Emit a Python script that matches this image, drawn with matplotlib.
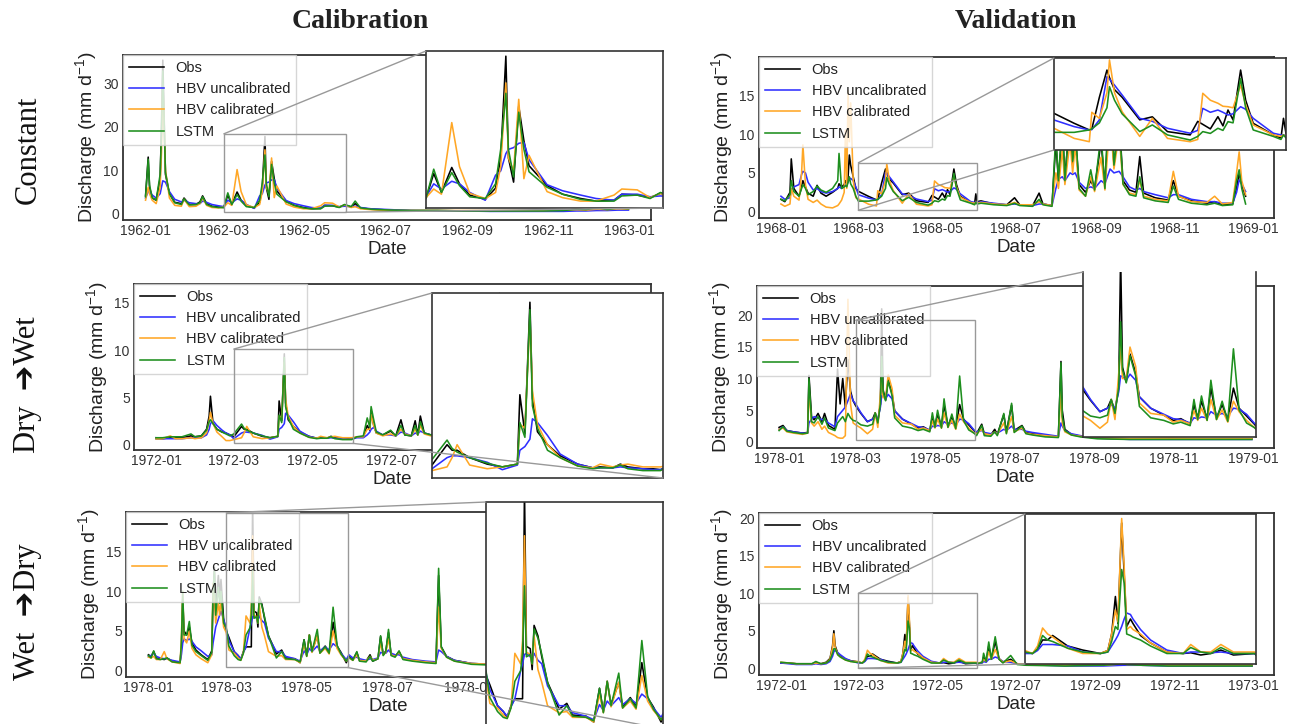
import numpy as np
import pandas as pd
import matplotlib
matplotlib.use("Agg")
import matplotlib.pyplot as plt
import matplotlib.dates as mdates
from matplotlib.patches import Rectangle, ConnectionPatch

plt.rcParams['font.family'] = ['Liberation Sans', 'DejaVu Sans']
plt.rcParams['mathtext.fontset'] = 'custom'
plt.rcParams['mathtext.rm'] = 'Liberation Sans'
plt.rcParams['mathtext.it'] = 'Liberation Sans:italic'

# ---- data: day offsets from Jan 1 and discharge (mm/d) per series ----
# Constant / calibration (1962)
a_day = [0, 2, 3, 5, 8, 11, 12, 13, 15, 18, 22, 27, 29, 33, 38, 41, 43, 46, 50, 55,
         59, 62, 65, 69, 72, 76, 82, 86, 88, 90, 91, 93, 95, 97, 99, 106, 112, 119, 125, 132, 135, 141, 146, 150,
         155, 158, 162, 170, 185, 200, 220, 240, 260, 280, 300, 315, 325, 332, 340, 348, 356, 364]
a_obs = [4.0, 13.0, 6.0, 3.5, 3.0, 8.0, 20.0, 35.5, 9.0, 4.5, 2.5, 2.2, 3.5, 2.0, 2.0, 2.6, 4.0, 2.2, 1.6, 1.4,
         1.3, 4.2, 2.0, 4.9, 3.0, 1.7, 1.2, 2.5, 6.0, 17.8, 6.0, 3.2, 12.0, 8.0, 5.1, 2.8, 1.8, 1.3, 1.0, 1.1, 1.8, 1.7, 1.4, 1.9,
         1.4, 2.2, 1.2, 0.9, 0.7, 0.6, 0.6, 0.5, 0.5, 0.5, 0.6, 0.6, 1.0, 0.8, 1.2, 0.9, 1.3, 1.0]
a_hbvu = [3.5, 5.0, 5.2, 4.2, 3.5, 4.5, 6.0, 7.5, 7.2, 5.0, 3.2, 2.6, 3.0, 2.4, 2.2, 2.2, 2.8, 2.5, 2.0, 1.7,
          1.5, 3.0, 2.4, 3.3, 3.0, 2.0, 1.1, 4.0, 4.5, 6.5, 7.0, 7.2, 7.7, 7.8, 5.8, 2.9, 2.2, 1.7, 1.3, 1.1, 1.8, 1.8, 1.5, 1.6,
          1.5, 1.6, 1.3, 1.0, 0.8, 0.6, 0.5, 0.5, 0.4, 0.4, 0.4, 0.4, 0.5, 0.5, 0.6, 0.6, 0.7, 0.7]
a_hbvc = [3.0, 6.0, 4.5, 3.0, 2.2, 6.0, 14.0, 30.0, 10.0, 3.5, 1.8, 1.6, 3.2, 1.5, 1.6, 2.2, 3.5, 1.8, 1.3, 1.2,
          1.4, 2.4, 1.8, 10.1, 5.0, 1.9, 1.3, 2.0, 5.0, 14.7, 6.0, 4.5, 12.8, 3.6, 6.3, 2.1, 1.4, 1.0, 1.0, 1.7, 2.4, 2.3, 1.4, 1.9,
          1.3, 1.5, 1.0, 0.8, 0.6, 0.6, 0.6, 0.6, 0.6, 0.6, 0.6, 0.7, 0.8, 0.7, 0.9, 0.8, 1.0, 0.9]
a_lstm = [3.8, 12.5, 6.5, 3.6, 3.0, 9.0, 18.0, 33.0, 9.5, 4.5, 2.4, 2.0, 3.3, 1.9, 2.0, 2.4, 3.8, 2.0, 1.5, 1.3,
          1.3, 4.7, 2.0, 4.3, 2.8, 1.5, 1.3, 3.0, 7.0, 13.5, 7.0, 3.8, 11.3, 7.0, 4.4, 2.6, 1.8, 1.2, 1.0, 1.0, 1.6, 1.7, 1.3, 2.0,
          1.5, 2.8, 1.2, 0.9, 0.7, 0.6, 0.6, 0.5, 0.5, 0.5, 0.5, 0.6, 0.9, 0.8, 1.3, 0.8, 1.2, 1.0]

# Constant / validation (1968)
b_day = [0, 3, 7, 8, 10, 14, 16, 17, 19, 21, 25, 28, 31, 35, 40, 44, 45, 47, 49, 50, 51, 52, 53, 54, 56, 58,
         60, 68, 74, 75, 78, 81, 82, 84, 87, 94, 99, 105, 114, 117, 119, 122, 125, 127, 129, 131, 134, 136, 139, 147, 150, 151, 152,
         155, 165, 175, 181, 185, 195, 200, 203, 210, 213, 215, 218, 220, 224, 226, 228, 231, 236, 240, 243,
         248, 251, 255, 258, 262, 265, 270, 275, 278, 281, 290, 300, 304, 308, 318, 330, 336, 342, 350, 353, 355, 357, 360]
b_obs = [1.6, 1.3, 2.5, 6.8, 3.0, 2.0, 3.2, 4.0, 3.2, 2.4, 2.0, 3.4, 2.4, 2.0, 2.5, 3.0, 3.6, 3.2, 3.5, 4.0, 3.6, 4.5, 7.3, 6.0, 4.5, 3.0,
         2.63, 1.97, 1.53, 1.6, 3.7, 5.5, 5.0, 4.2, 3.7, 2.2, 2.4, 1.42, 1.2, 2.1, 1.9, 1.6, 2.41, 1.8, 2.85, 2.2, 5.5, 3.5, 1.97, 1.2, 1.0, 2.3, 1.3,
         1.4, 1.0, 0.9, 1.8, 0.9, 0.8, 2.4, 1.0, 0.8, 9.0, 4.0, 11.0, 4.5, 12.0, 6.0, 10.0, 3.5, 2.5, 4.0, 3.0,
         9.0, 3.5, 15.0, 6.0, 12.0, 4.0, 2.8, 2.5, 7.1, 2.4, 1.8, 1.5, 4.0, 2.0, 1.4, 1.1, 1.3, 0.9, 1.0, 3.0, 5.0, 3.5, 2.0]
b_hbvu = [2.0, 1.6, 1.8, 2.8, 3.2, 3.5, 4.8, 5.2, 5.0, 3.8, 2.8, 3.0, 2.6, 2.4, 2.6, 3.0, 3.2, 3.0, 3.2, 3.4, 3.5, 3.8, 4.2, 4.3, 4.0, 3.2,
          2.19, 1.75, 1.53, 1.55, 2.2, 5.06, 4.9, 4.5, 3.85, 2.3, 2.1, 1.64, 1.31, 1.5, 2.96, 2.7, 2.85, 2.7, 2.52, 2.6, 3.07, 2.9, 2.3, 1.31, 1.2, 1.2, 1.15,
          1.3, 1.1, 0.9, 1.0, 0.9, 0.8, 1.0, 1.0, 0.8, 3.0, 4.2, 4.5, 4.0, 5.0, 4.8, 5.0, 3.8, 3.0, 3.2, 3.0,
          4.0, 3.6, 5.5, 5.0, 5.2, 4.5, 3.2, 2.8, 3.0, 2.6, 2.2, 1.8, 2.2, 2.2, 1.6, 1.3, 1.3, 1.1, 1.1, 2.5, 4.1, 3.6, 2.6]
b_hbvc = [1.0, 0.7, 1.0, 3.0, 2.0, 1.5, 5.0, 8.6, 3.5, 1.6, 1.2, 1.5, 1.0, 0.6, 0.5, 0.8, 1.0, 1.5, 2.5, 10.5, 3.0, 15.6, 9.0, 14.0, 4.0, 1.8,
          1.64, 0.97, 0.75, 2.7, 2.3, 4.0, 6.17, 4.0, 2.74, 1.1, 2.3, 0.97, 0.75, 0.9, 3.96, 3.5, 3.3, 3.1, 3.07, 3.0, 4.5, 3.2, 1.86, 1.2, 1.1, 1.2, 1.1,
          1.2, 1.0, 0.9, 1.2, 0.9, 0.9, 1.3, 1.0, 0.8, 5.0, 3.0, 8.0, 3.5, 9.0, 5.0, 8.5, 2.8, 2.0, 4.5, 2.6,
          7.0, 2.8, 12.0, 5.5, 10.0, 3.5, 2.4, 2.2, 4.0, 2.0, 1.6, 1.4, 5.2, 2.0, 1.3, 1.2, 2.0, 1.0, 1.2, 5.0, 7.7, 4.0, 2.2]
b_lstm = [1.6, 1.4, 2.2, 4.0, 2.6, 2.0, 3.0, 3.5, 3.0, 2.2, 2.6, 3.3, 2.8, 2.5, 3.0, 4.0, 7.5, 3.0, 3.2, 3.4, 3.2, 3.8, 4.5, 3.6, 3.0, 2.0,
          1.37, 1.37, 1.53, 1.6, 2.0, 3.0, 4.4, 3.5, 2.6, 1.42, 1.86, 1.2, 0.86, 1.1, 1.42, 1.3, 1.64, 1.5, 2.08, 2.0, 4.94, 3.0, 1.53, 1.1, 0.9, 1.2, 1.0,
          1.1, 0.9, 0.8, 1.1, 0.8, 0.7, 1.6, 0.9, 0.7, 10.0, 4.0, 12.0, 4.0, 13.0, 6.5, 11.0, 3.0, 2.0, 5.4, 2.8,
          10.0, 3.0, 18.8, 6.0, 11.5, 3.6, 2.2, 2.0, 4.5, 1.8, 1.4, 1.2, 3.3, 1.6, 1.1, 0.9, 1.1, 0.8, 0.9, 4.0, 5.4, 3.0, 1.0]

# Dry -> Wet / calibration (1972)
c_day = [0, 5, 11, 15, 20, 27, 30, 35, 39, 41, 42, 44, 47, 51, 54, 57,
         60, 66, 68, 70, 75, 82, 88, 94, 95, 97, 99, 100, 102, 106, 111, 118, 124, 127, 132, 135, 138, 144, 148, 151,
         155, 160, 163, 165, 166, 168, 170, 175, 181, 185, 189, 192, 197, 200, 202, 204, 207, 212, 230, 250, 262, 265, 268, 280, 300, 330, 365]
c_obs = [0.6, 0.6, 0.7, 0.7, 0.7, 0.9, 0.8, 0.9, 1.6, 3.0, 5.1, 2.2, 1.6, 1.3, 1.2, 1.0,
         0.8, 1.9, 1.6, 1.6, 1.2, 0.85, 0.7, 0.85, 4.6, 2.5, 9.6, 4.4, 2.6, 1.9, 1.3, 0.85, 0.65, 0.7, 0.65, 0.85, 0.7, 0.6, 0.6, 0.55,
         0.8, 0.8, 2.0, 1.5, 3.6, 2.0, 1.2, 1.0, 1.4, 0.9, 2.6, 1.0, 0.9, 2.5, 1.0, 3.0, 1.2, 1.0, 1.5, 2.0, 6.0, 16.0, 5.0, 2.5, 1.5, 1.2, 1.0]
c_hbvu = [0.7, 0.6, 0.6, 0.6, 0.6, 0.7, 0.7, 0.7, 1.0, 1.6, 2.2, 2.5, 2.0, 1.5, 1.2, 1.0,
          0.6, 1.2, 1.3, 1.3, 1.2, 0.95, 0.55, 0.8, 1.6, 1.8, 2.2, 3.3, 3.1, 2.4, 1.4, 0.85, 0.65, 0.65, 0.65, 0.7, 0.65, 0.6, 0.55, 0.55,
          0.7, 0.7, 1.0, 1.3, 1.6, 1.8, 1.4, 1.0, 1.0, 0.9, 1.3, 1.2, 0.9, 1.2, 1.1, 1.4, 1.2, 1.0, 1.3, 1.6, 3.0, 6.0, 5.0, 2.8, 1.6, 1.2, 1.0]
c_hbvc = [0.6, 0.6, 0.9, 0.6, 0.6, 0.7, 0.6, 0.7, 1.2, 2.5, 3.4, 2.2, 1.3, 0.8, 0.4, 0.4,
          0.5, 0.7, 1.2, 1.9, 0.8, 0.6, 0.7, 0.85, 3.0, 2.8, 8.7, 4.8, 3.0, 1.9, 1.2, 0.75, 0.65, 0.85, 0.7, 0.8, 0.85, 0.7, 0.7, 0.7,
          0.8, 0.8, 1.6, 1.6, 3.2, 2.0, 1.2, 0.9, 1.1, 0.9, 1.6, 1.1, 0.9, 1.6, 1.0, 2.0, 1.1, 0.9, 1.4, 1.8, 5.0, 14.0, 5.0, 2.2, 1.4, 1.1, 0.9]
c_lstm = [0.7, 0.7, 0.8, 0.8, 0.8, 1.1, 0.8, 0.9, 1.5, 2.4, 2.6, 2.2, 1.6, 1.3, 1.1, 0.9,
          1.1, 2.15, 1.7, 1.5, 1.2, 0.9, 0.7, 0.85, 3.1, 2.3, 9.2, 4.0, 2.8, 1.6, 1.2, 0.75, 0.6, 0.65, 0.65, 0.8, 0.6, 0.5, 0.5, 0.5,
          0.8, 0.9, 2.8, 1.8, 4.0, 2.6, 1.3, 1.0, 1.5, 0.9, 2.0, 1.0, 0.9, 2.0, 1.0, 2.4, 1.2, 1.0, 1.5, 1.9, 5.5, 13.0, 5.0, 2.3, 1.5, 1.2, 1.0]

# Dry -> Wet / validation (1978)
d_day = [0, 3, 6, 11, 18, 22, 23, 25, 27, 30, 33, 35, 38, 43, 45, 47, 49, 51, 53, 55, 57,
         59, 63, 68, 72, 74, 76, 78, 79, 80, 82, 84, 87, 89, 95, 102, 107, 111, 116, 118, 120, 122, 125, 127, 130, 133, 136, 139, 142, 146, 150,
         152, 156, 158, 163, 166, 168, 173, 175, 179, 181, 187, 190, 195, 205, 215, 217, 218, 220, 225, 232, 245, 270, 300, 330, 364]
d_obs = [2.3, 2.6, 1.8, 1.6, 1.4, 1.5, 10.5, 4.0, 3.5, 4.5, 3.2, 4.5, 2.6, 2.0, 11.5, 6.0, 10.0, 5.5, 13.0, 8.0, 6.5,
         5.7, 4.5, 3.2, 3.6, 4.6, 3.2, 6.0, 21.0, 8.3, 6.6, 9.8, 7.6, 4.9, 3.6, 2.8, 2.2, 2.4, 1.8, 4.0, 2.5, 4.4, 2.4, 5.9, 2.5, 4.0, 2.3, 5.9, 3.6, 2.7, 1.8,
         1.3, 2.8, 1.3, 1.1, 2.0, 1.2, 4.3, 1.6, 5.8, 1.8, 2.6, 1.5, 1.3, 1.0, 0.8, 12.7, 5.0, 2.0, 1.2, 0.9, 0.6, 0.5, 0.5, 0.5, 0.5]
d_hbvu = [2.0, 2.4, 1.8, 1.6, 1.4, 1.4, 3.0, 3.6, 4.0, 3.8, 3.5, 3.6, 3.0, 2.4, 4.0, 4.5, 5.0, 5.5, 6.5, 7.6, 6.5,
          6.0, 4.6, 3.2, 3.6, 4.0, 3.6, 5.5, 7.3, 7.2, 6.8, 7.5, 6.8, 4.9, 3.6, 2.9, 2.4, 2.3, 1.9, 2.5, 2.4, 2.6, 2.5, 3.2, 2.8, 3.0, 2.7, 3.6, 3.5, 2.9, 1.9,
          1.6, 1.8, 1.5, 1.3, 1.5, 1.4, 2.0, 1.8, 2.5, 2.0, 2.0, 1.7, 1.5, 1.2, 0.9, 3.0, 2.5, 1.8, 1.3, 1.0, 0.6, 0.4, 0.4, 0.4, 0.4]
d_hbvc = [2.0, 2.2, 1.6, 1.4, 1.2, 1.4, 8.2, 3.0, 2.5, 3.2, 2.0, 2.5, 1.5, 1.0, 0.7, 0.6, 0.6, 1.0, 22.5, 6.0, 3.0,
          2.7, 2.2, 1.3, 2.0, 4.6, 2.3, 7.6, 10.7, 7.0, 7.0, 10.6, 8.4, 4.2, 3.0, 2.8, 2.0, 2.2, 1.8, 3.3, 2.2, 3.6, 2.2, 4.6, 2.3, 3.4, 2.0, 4.4, 3.2, 2.2, 1.4,
          1.3, 2.0, 1.3, 1.1, 1.6, 1.2, 3.0, 1.4, 4.0, 1.6, 2.2, 1.4, 1.2, 1.0, 0.8, 8.0, 3.0, 1.6, 1.1, 0.9, 0.6, 0.5, 0.6, 0.5, 0.5]
d_lstm = [1.8, 2.4, 1.7, 1.5, 1.3, 1.4, 10.0, 3.2, 3.0, 4.0, 2.8, 3.8, 2.2, 1.8, 3.0, 3.5, 4.0, 3.2, 4.5, 3.8, 3.4,
          3.3, 2.7, 2.5, 2.8, 4.6, 3.0, 6.0, 13.5, 8.0, 6.5, 9.6, 7.3, 3.8, 2.5, 2.2, 1.8, 2.0, 1.6, 4.6, 2.3, 5.0, 2.2, 6.8, 2.3, 4.4, 2.1, 10.4, 3.4, 1.9, 1.4,
          1.0, 2.6, 1.0, 0.9, 1.6, 1.0, 4.5, 1.3, 6.1, 1.5, 2.5, 1.3, 1.1, 0.8, 0.7, 12.5, 4.0, 1.8, 1.1, 0.8, 0.5, 0.4, 0.4, 0.4, 0.4]

# Wet -> Dry / calibration (1978)
e_day = [0, 2, 4, 6, 9, 12, 14, 18, 24, 25, 26, 27, 29, 31, 33, 36, 40, 45, 48, 49, 50, 51, 53, 54, 55, 57,
         59, 61, 65, 68, 70, 72, 74, 77, 78, 79, 80, 82, 83, 84, 86, 88, 91, 94, 97, 101, 104, 111, 115, 118,
         120, 122, 124, 128, 130, 134, 137, 140, 143, 146, 150,
         152, 155, 158, 160, 165, 168, 170, 174, 176, 178, 180, 182, 184, 187, 190, 193, 200, 210, 218, 220, 222, 226, 232, 245, 260, 300, 364]
e_obs = [2.0, 1.8, 2.4, 1.6, 1.5, 1.4, 1.6, 1.2, 1.0, 3.0, 9.0, 5.0, 4.5, 5.5, 3.5, 2.6, 2.0, 1.4, 2.5, 9.0, 13.0, 8.0, 12.0, 9.5, 11.5, 6.5,
         5.0, 4.2, 2.4, 1.9, 1.4, 2.4, 3.0, 3.0, 3.0, 21.0, 7.5, 7.3, 5.5, 9.3, 8.4, 6.6, 4.4, 3.3, 2.1, 2.6, 1.6, 1.5, 1.0, 3.9,
         1.9, 4.5, 2.5, 4.4, 2.3, 3.1, 2.3, 6.1, 3.1, 2.3, 1.0,
         1.8, 1.4, 2.3, 1.3, 1.2, 2.0, 1.2, 1.5, 4.3, 2.0, 2.5, 4.8, 2.0, 1.8, 2.4, 1.5, 1.3, 1.1, 1.0, 12.0, 3.0, 1.8, 1.3, 0.9, 0.8, 0.8, 0.8]
e_hbvu = [1.8, 1.9, 2.2, 1.8, 1.6, 1.5, 1.5, 1.3, 1.1, 2.0, 3.5, 4.0, 3.8, 4.0, 3.7, 3.0, 2.5, 1.8, 2.0, 3.5, 4.5, 5.5, 6.5, 7.0, 7.5, 6.5,
          5.2, 3.8, 2.4, 1.9, 1.5, 2.3, 3.0, 5.4, 6.0, 6.8, 6.9, 6.6, 6.4, 6.9, 6.3, 6.0, 4.1, 3.3, 2.4, 2.4, 1.8, 1.5, 1.2, 2.5,
          2.0, 2.8, 2.4, 3.1, 2.5, 3.0, 2.6, 3.4, 3.0, 2.2, 1.4,
          2.0, 1.6, 1.7, 1.5, 1.3, 1.5, 1.4, 1.6, 2.3, 2.2, 2.2, 2.6, 2.2, 2.0, 2.0, 1.7, 1.4, 1.2, 1.1, 2.6, 2.4, 1.8, 1.3, 0.9, 0.8, 0.8, 0.8]
e_hbvc = [1.7, 1.6, 1.8, 1.4, 1.4, 2.4, 1.5, 1.1, 0.9, 4.0, 10.0, 4.0, 3.5, 5.0, 2.8, 2.0, 1.5, 1.0, 2.0, 11.0, 9.0, 6.0, 8.5, 7.0, 9.0, 5.5,
          4.8, 2.6, 2.2, 1.6, 1.3, 2.3, 6.9, 6.0, 8.0, 17.0, 7.0, 6.8, 6.0, 8.4, 5.5, 4.4, 2.4, 2.1, 1.8, 1.9, 1.4, 1.4, 1.0, 3.4,
          1.8, 4.5, 2.3, 4.4, 2.2, 2.8, 2.1, 5.0, 2.8, 2.0, 1.2,
          1.6, 1.3, 2.0, 1.3, 1.2, 1.8, 1.3, 1.5, 3.5, 2.0, 2.3, 4.0, 2.0, 1.8, 2.3, 1.5, 1.3, 1.1, 1.0, 8.0, 2.8, 1.7, 1.2, 0.9, 0.8, 0.8, 0.8]
e_lstm = [1.9, 1.6, 2.5, 1.5, 1.4, 1.5, 1.6, 1.1, 1.0, 3.5, 10.0, 4.5, 4.5, 6.2, 3.2, 2.4, 1.9, 1.3, 2.3, 10.0, 12.5, 7.0, 10.5, 8.5, 10.0, 6.0,
          5.4, 3.1, 1.9, 1.4, 1.3, 2.2, 4.5, 5.4, 7.0, 12.7, 6.6, 6.8, 6.0, 9.0, 8.2, 6.8, 4.4, 3.0, 1.6, 2.4, 1.5, 1.4, 1.1, 3.9,
          1.8, 4.5, 2.4, 5.2, 2.2, 3.0, 2.2, 8.0, 3.2, 2.1, 1.2,
          1.7, 1.3, 2.4, 1.2, 1.1, 1.8, 1.2, 1.5, 4.4, 1.9, 2.4, 5.2, 1.9, 1.7, 2.5, 1.4, 1.2, 1.0, 0.9, 12.9, 3.0, 1.7, 1.2, 0.8, 0.7, 0.7, 0.7]

# Wet -> Dry / validation (1972)
f_day = [0, 6, 12, 18, 24, 27, 31, 35, 38, 40, 41, 42, 44, 46, 50, 54, 58,
         60, 63, 65, 67, 69, 71, 77, 83, 90, 93, 94.5, 96, 97, 98.5, 99.5, 100.5, 102, 103, 106, 110, 116.5, 123, 126, 130, 134, 138, 143, 151.5,
         152, 156, 157, 159, 161, 163, 166, 169, 172, 178, 183, 190, 220, 250, 265, 268, 280, 300, 330, 365]
f_obs = [0.7, 0.7, 0.6, 0.6, 0.6, 0.7, 0.6, 0.8, 1.3, 3.0, 5.0, 3.0, 2.0, 1.6, 1.2, 1.0, 0.9,
         0.8, 0.7, 1.0, 1.6, 1.6, 1.9, 1.2, 0.93, 0.7, 0.9, 2.0, 4.5, 2.7, 9.4, 6.0, 2.5, 3.0, 2.7, 1.9, 1.4, 0.8, 0.7, 0.75, 0.6, 0.7, 0.93, 0.6, 0.7,
         0.6, 0.8, 1.5, 0.9, 3.0, 1.2, 3.6, 1.2, 0.8, 1.2, 0.6, 0.5, 0.4, 0.5, 0.6, 0.5, 0.4, 0.4, 0.4, 0.4]
f_hbvu = [0.7, 0.6, 0.5, 0.5, 0.5, 0.6, 0.5, 0.6, 0.9, 1.6, 2.2, 2.4, 2.1, 1.8, 1.3, 1.0, 0.8,
          0.7, 0.7, 0.9, 1.3, 1.3, 1.3, 1.2, 0.8, 0.7, 0.8, 1.2, 1.6, 1.9, 2.5, 3.0, 3.4, 3.3, 3.0, 2.3, 1.6, 0.93, 0.7, 0.8, 0.8, 0.75, 0.8, 0.7, 0.7,
          0.6, 0.7, 0.9, 0.8, 1.2, 1.2, 1.5, 1.3, 0.9, 0.8, 0.6, 0.5, 0.3, 0.3, 0.4, 0.4, 0.4, 0.3, 0.3, 0.3]
f_hbvc = [0.8, 0.7, 0.6, 0.6, 0.6, 0.7, 0.6, 0.7, 1.2, 2.8, 4.6, 2.8, 1.8, 1.5, 1.1, 0.9, 0.9,
          0.9, 0.7, 1.2, 2.4, 2.0, 1.8, 1.05, 0.7, 0.7, 0.9, 2.0, 3.6, 2.8, 9.7, 6.5, 2.3, 2.5, 2.3, 2.0, 1.4, 0.8, 0.7, 1.3, 0.8, 0.8, 1.3, 0.8, 0.8,
          0.7, 0.8, 1.2, 0.9, 2.2, 1.2, 2.5, 1.3, 0.8, 1.0, 0.6, 0.5, 0.4, 0.4, 0.6, 0.5, 0.5, 0.4, 0.4, 0.4]
f_lstm = [0.8, 0.7, 0.6, 0.6, 0.6, 0.9, 0.6, 0.7, 1.1, 2.0, 2.6, 2.6, 1.8, 1.5, 1.1, 0.9, 0.8,
          0.8, 0.7, 1.0, 1.9, 1.6, 1.5, 1.05, 0.8, 0.7, 0.8, 1.5, 2.5, 2.3, 6.3, 5.4, 2.0, 1.9, 1.8, 1.6, 1.2, 0.7, 0.7, 1.1, 0.8, 0.7, 1.1, 0.7, 0.7,
          0.6, 0.8, 2.0, 0.9, 3.5, 1.2, 4.2, 1.2, 0.7, 1.7, 0.5, 0.4, 0.3, 0.4, 0.6, 0.5, 0.4, 0.3, 0.3, 0.3]

series = [("obs", "Obs", "black"),
          ("hbvu", "HBV uncalibrated", "#2f2fff"),
          ("hbvc", "HBV calibrated", "#ffa726"),
          ("lstm", "LSTM", "#1e8f1e")]

# layout in pixels: main box (left, top, right, bottom), inset box, zoomed y range, connector corners
panels = [
    dict(year=1962, day=a_day, obs=a_obs, hbvu=a_hbvu, hbvc=a_hbvc, lstm=a_lstm,
         box=(123, 55, 651, 220), ylim=(-1.6, 36.7), yticks=[0, 10, 20, 30],
         inset=(426, 51, 663, 208), zy=(0.2, 18.4), links=[(0, 1), (1, 0)]),
    dict(year=1968, day=b_day, obs=b_obs, hbvu=b_hbvu, hbvc=b_hbvc, lstm=b_lstm,
         box=(759, 57, 1274, 218), ylim=(-0.8, 19.9), yticks=[0, 5, 10, 15],
         inset=(1054, 58, 1286, 150), zy=(0.2, 6.3), links=[(0, 1), (0, 0)]),
    dict(year=1972, day=c_day, obs=c_obs, hbvu=c_hbvu, hbvc=c_hbvc, lstm=c_lstm,
         box=(134, 284, 651, 450), ylim=(-0.6, 17.0), yticks=[0, 5, 10, 15],
         inset=(432, 293, 663, 478), zy=(0.1, 10.1), links=[(0, 1), (1, 0)]),
    dict(year=1978, day=d_day, obs=d_obs, hbvu=d_hbvu, hbvc=d_hbvc, lstm=d_lstm,
         box=(757, 286, 1274, 448), ylim=(-0.95, 24.6), yticks=[0, 5, 10, 15, 20],
         inset=(1083, 272, 1256, 437), zy=(0.3, 19.2), links=[(0, 1)], notop=True),
    dict(year=1978, day=e_day, obs=e_obs, hbvu=e_hbvu, hbvc=e_hbvc, lstm=e_lstm,
         box=(126, 512, 651, 677), ylim=(-0.8, 20.0), yticks=[0, 5, 10, 15],
         inset=(486, 502, 663, 729), zy=(0.4, 19.9), links=[(0, 1), (1, 0)]),
    dict(year=1972, day=f_day, obs=f_obs, hbvu=f_hbvu, hbvc=f_hbvc, lstm=f_lstm,
         box=(759, 513, 1274, 675), ylim=(-0.9, 20.7), yticks=[0, 5, 10, 15, 20],
         inset=(1025, 514, 1256, 664), zy=(0.0, 10.0), links=[(0, 1), (0, 0)]),
]

W, H = 1293, 724
fig = plt.figure(figsize=(W / 100, H / 100), dpi=100)


def add_ax(l, t, r, b):
    return fig.add_axes([l / W, 1 - b / H, (r - l) / W, (b - t) / H])


for p in panels:
    y0 = pd.Timestamp(f"{p['year']}-01-01")
    x = y0 + pd.to_timedelta(np.array(p['day'], dtype=float), unit='D')
    ax = add_ax(*p['box'])
    for key, lab, col in series:
        ax.plot(x, p[key], color=col, lw=1.15, label=lab)
    ax.set_xlim(y0 - pd.Timedelta(days=17), pd.Timestamp(f"{p['year']}-12-31") + pd.Timedelta(days=17))
    ax.set_ylim(*p['ylim'])
    ax.set_yticks(p['yticks'])
    ax.xaxis.set_major_locator(mdates.MonthLocator(bymonth=[1, 3, 5, 7, 9, 11]))
    ax.xaxis.set_major_formatter(mdates.DateFormatter('%Y-%m'))
    ax.tick_params(length=0, labelsize=10, colors='#333333', pad=3)
    for s in ax.spines.values():
        s.set_color('#333333')
        s.set_linewidth(1.3)
    ax.set_xlabel('Date', fontsize=13.5, color='#222222', labelpad=2)
    ax.set_ylabel('Discharge (mm d$^{-1}$)', fontsize=14, color='#222222', labelpad=3)
    ax.legend(loc='upper left', borderaxespad=0, fontsize=10.5, framealpha=0.8,
              edgecolor='#cccccc', fancybox=False, handlelength=2.4, labelspacing=0.5,
              labelcolor='#222222')

    # zoomed window
    z0 = pd.Timestamp(f"{p['year']}-03-01")
    z1 = pd.Timestamp(f"{p['year']}-06-01")
    zy = p['zy']
    ax.add_patch(Rectangle((mdates.date2num(z0), zy[0]), mdates.date2num(z1) - mdates.date2num(z0),
                           zy[1] - zy[0], fill=False, ec='#999999', lw=1.0, zorder=6))
    ins = add_ax(*p['inset'])
    for key, lab, col in series:
        ins.plot(x, p[key], color=col, lw=1.15)
    ins.set_xlim(z0, z1)
    ins.set_ylim(*zy)
    ins.set_xticks([])
    ins.set_yticks([])
    for s in ins.spines.values():
        s.set_color('#333333')
        s.set_linewidth(1.2)
    if p.get('notop'):
        ins.spines['top'].set_visible(False)
    for cx, cy in p['links']:
        xa = mdates.date2num(z0 if cx == 0 else z1)
        ya = zy[0] if cy == 0 else zy[1]
        fig.add_artist(ConnectionPatch(xyA=(xa, ya), coordsA=ax.transData,
                                       xyB=(cx, cy), coordsB=ins.transAxes,
                                       color='#999999', lw=1.0))

# column titles and row labels
fig.text(360 / W, 1 - 22 / H, 'Calibration', ha='center', va='center',
         fontsize=20, fontweight='bold', family='Liberation Serif', color='#222222')
fig.text(1016 / W, 1 - 22 / H, 'Validation', ha='center', va='center',
         fontsize=20, fontweight='bold', family='Liberation Serif', color='#222222')
row_fam = ['Liberation Serif', 'DejaVu Sans']
fig.text(28 / W, 1 - 150 / H, 'Constant', rotation=90, ha='center', va='center',
         fontsize=22, family=row_fam, color='#111111')
fig.text(28 / W, 1 - 385 / H, 'Dry  \u2794Wet', rotation=90, ha='center', va='center',
         fontsize=22, family=row_fam, color='#111111')
fig.text(28 / W, 1 - 612 / H, 'Wet  \u2794Dry', rotation=90, ha='center', va='center',
         fontsize=22, family=row_fam, color='#111111')

fig.savefig('out.png', dpi=100)
